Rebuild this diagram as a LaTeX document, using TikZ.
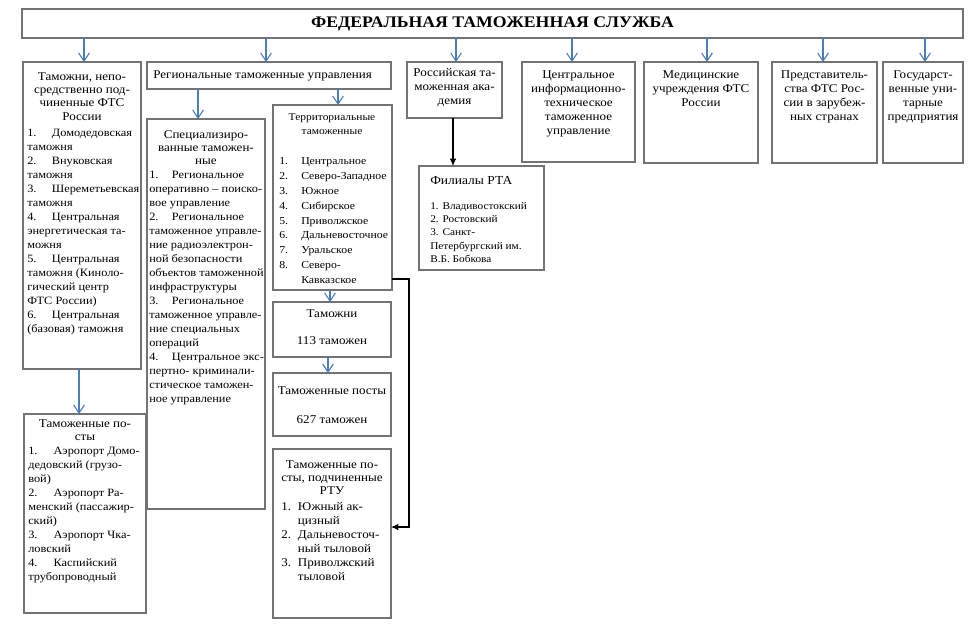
\documentclass[tikz,border=0pt]{standalone}
\usepackage{fontspec}
\setmainfont{Liberation Serif}[FakeStretch=1.1]
\usetikzlibrary{arrows.meta}
\definecolor{bord}{RGB}{115,115,115}
\definecolor{arrblue}{RGB}{74,126,187}
\newcommand\bxx[5]{\node[box, minimum width={(#4-#2)*0.75pt}, minimum height={(#5-#3)*0.75pt}] (#1) at (#2,#3) {};}
\newcommand\nm[2][18pt]{\makebox[#1][l]{#2}}
\tikzset{
  box/.style={draw=bord, line width=0.85pt, inner sep=0pt, outer sep=0pt, anchor=north west},
  barr/.style={draw=arrblue, line width=0.8pt, -{Straight Barb[length=6pt,width=8pt,line width=0.8pt]}},
  karr/.style={draw=black, line width=0.8pt, -{Latex[length=5.5pt,width=5pt]}},
  head/.style={inner sep=0pt, align=center, anchor=north, font=\fontsize{8.9}{10}\selectfont},
  topt/.style={inner sep=0pt, align=center, anchor=north, font=\fontsize{8.9}{10.5}\selectfont},
  lst/.style={inner sep=0pt, align=left, anchor=north west, font=\fontsize{8.4}{10.5}\selectfont},
}
\begin{document}
\begin{tikzpicture}[x=0.75pt,y=-0.75pt]
\useasboundingbox (0,0) rectangle (975,625);
% boxes
\bxx{title}{22}{9}{963}{38}
\bxx{b1}{23}{62}{141}{369}
\bxx{posts}{24}{414}{146}{613}
\bxx{reg}{147}{62}{391}{89}
\bxx{spec}{147}{119}{265}{509}
\bxx{terr}{273}{105}{392}{290}
\bxx{tmz}{273}{302}{391}{357}
\bxx{pst}{273}{373}{391}{436}
\bxx{rtu}{273}{449}{391}{618}
\bxx{rta}{407}{62}{502}{118}
\bxx{fil}{419}{166}{544}{270}
\bxx{citu}{522}{62}{635}{162}
\bxx{med}{644}{62}{758}{163}
\bxx{pred}{772}{62}{877}{163}
\bxx{gup}{883}{62}{963}{163}
% title
\node[inner sep=0pt, font=\fontsize{12.1}{14}\selectfont\bfseries] (titlet) at (title) {ФЕДЕРАЛЬНАЯ ТАМОЖЕННАЯ СЛУЖБА};
% box 1
\node[head] (b1h) at (82,72) {Таможни, непо-\\средственно под-\\чиненные ФТС\\России};
\node[lst] (b1l) at (27,129) {\nm[18.5pt]{1.}Домодедовская\\таможня\\\nm[18.5pt]{2.}Внуковская\\таможня\\\nm[18.5pt]{3.}Шереметьевская\\таможня\\\nm[18.5pt]{4.}Центральная\\энергетическая та-\\можня\\\nm[18.5pt]{5.}Центральная\\таможня (Киноло-\\гический центр\\ФТС России)\\\nm[18.5pt]{6.}Центральная\\(базовая) таможня};
% posts under box 1
\node[head] (psh) at (85,419) {Таможенные по-\\сты};
\node[lst] (psl) at (28,447) {\nm[19pt]{1.}Аэропорт Домо-\\дедовский (грузо-\\вой)\\\nm[19pt]{2.}Аэропорт Ра-\\менский (пассажир-\\ский)\\\nm[19pt]{3.}Аэропорт Чка-\\ловский\\\nm[19pt]{4.}Каспийский\\трубопроводный};
% regional
\node[inner sep=0pt, anchor=west, font=\fontsize{8.9}{10}\selectfont] (regt) at (153,76) {Региональные таможенные управления};
% specialised
\node[head] (spech) at (206,130) {Специализиро-\\ванные таможен-\\ные};
\node[lst] (specl) at (149,171) {\nm[17pt]{1.}Региональное\\оперативно – поиско-\\вое управление\\\nm[17pt]{2.}Региональное\\таможенное управле-\\ние радиоэлектрон-\\ной безопасности\\объектов таможенной\\инфраструктуры\\\nm[17pt]{3.}Региональное\\таможенное управле-\\ние специальных\\операций\\\nm[17pt]{4.}Центральное экс-\\пертно- криминали-\\стическое таможен-\\ное управление};
% territorial
\node[head, font=\fontsize{7.8}{10.5}\selectfont] (terrh) at (332,113) {Территориальные\\таможенные};
\node[lst, font=\fontsize{8}{11.2}\selectfont] (terrl) at (279,157) {\nm[16.5pt]{1.}Центральное\\\nm[16.5pt]{2.}Северо-Западное\\\nm[16.5pt]{3.}Южное\\\nm[16.5pt]{4.}Сибирское\\\nm[16.5pt]{5.}Приволжское\\\nm[16.5pt]{6.}Дальневосточное\\\nm[16.5pt]{7.}Уральское\\\nm[16.5pt]{8.}Северо-\\\hspace*{16.5pt}Кавказское};
% tamozhni / posts
\node[inner sep=0pt, font=\fontsize{8.9}{10}\selectfont] (tmz1) at (332,314) {Таможни};
\node[inner sep=0pt, font=\fontsize{8.9}{10}\selectfont] (tmz2) at (332,341) {113 таможен};
\node[inner sep=0pt, font=\fontsize{8.9}{10}\selectfont] (pst1) at (332,391) {Таможенные посты};
\node[inner sep=0pt, font=\fontsize{8.9}{10}\selectfont] (pst2) at (332,420) {627 таможен};
% RTU posts
\node[head] (rtuh) at (332,460) {Таможенные по-\\сты, подчиненные\\РТУ};
\node[lst, font=\fontsize{8.9}{10.5}\selectfont] (rtul) at (281,502) {\nm[12.5pt]{1.}Южный ак-\\\hspace*{12.5pt}цизный\\\nm[12.5pt]{2.}Дальневосточ-\\\hspace*{12.5pt}ный тыловой\\\nm[12.5pt]{3.}Приволжский\\\hspace*{12.5pt}тыловой};
% RTA
\node[topt] (rtat) at (454.5,68) {Российская та-\\моженная ака-\\демия};
\node[inner sep=0pt, anchor=west, font=\fontsize{9.2}{10}\selectfont] (filh) at (430,181) {Филиалы РТА};
\node[lst, font=\fontsize{7.7}{10}\selectfont] (fill) at (430,202) {1. Владивостокский\\2. Ростовский\\3. Санкт-\\Петербургский им.\\В.Б. Бобкова};
% other top boxes
\node[topt] (citut) at (578.5,70) {Центральное\\информационно-\\техническое\\таможенное\\управление};
\node[topt] (medt) at (701,70) {Медицинские\\учреждения ФТС\\России};
\node[topt] (predt) at (824.5,70) {Представитель-\\ства ФТС Рос-\\сии в зарубеж-\\ных странах};
\node[topt] (gupt) at (923,70) {Государст-\\венные уни-\\тарные\\предприятия};
% arrow x positions
\coordinate (xa) at (84,0);
\coordinate (xb) at (266,0);
\coordinate (xc) at (456,0);
\coordinate (xd) at (572,0);
\coordinate (xe) at (707,0);
\coordinate (xf) at (823,0);
\coordinate (xg) at (925,0);
\coordinate (xh) at (79,0);
\coordinate (xi) at (198,0);
\coordinate (xj) at (338,0);
\coordinate (xk) at (330,0);
\coordinate (xl) at (328,0);
\coordinate (xm) at (453,0);
\draw[barr] (title.south -| xa) -- (b1.north -| xa);
\draw[barr] (title.south -| xb) -- (reg.north -| xb);
\draw[barr] (title.south -| xc) -- (rta.north -| xc);
\draw[barr] (title.south -| xd) -- (citu.north -| xd);
\draw[barr] (title.south -| xe) -- (med.north -| xe);
\draw[barr] (title.south -| xf) -- (pred.north -| xf);
\draw[barr] (title.south -| xg) -- (gup.north -| xg);
\draw[barr] (b1.south -| xh) -- (posts.north -| xh);
\draw[barr] (reg.south -| xi) -- (spec.north -| xi);
\draw[barr] (reg.south -| xj) -- (terr.north -| xj);
\draw[barr] (terr.south -| xk) -- (tmz.north -| xk);
\draw[barr] (tmz.south -| xl) -- (pst.north -| xl);
\draw[karr] (rta.south -| xm) -- (fil.north -| xm);
\coordinate (ca) at (409,279);
\coordinate (cb) at (409,527);
\draw[karr] (terr.east |- ca) -- (ca) -- (cb) -- (rtu.east |- cb);
\end{tikzpicture}
\end{document}
